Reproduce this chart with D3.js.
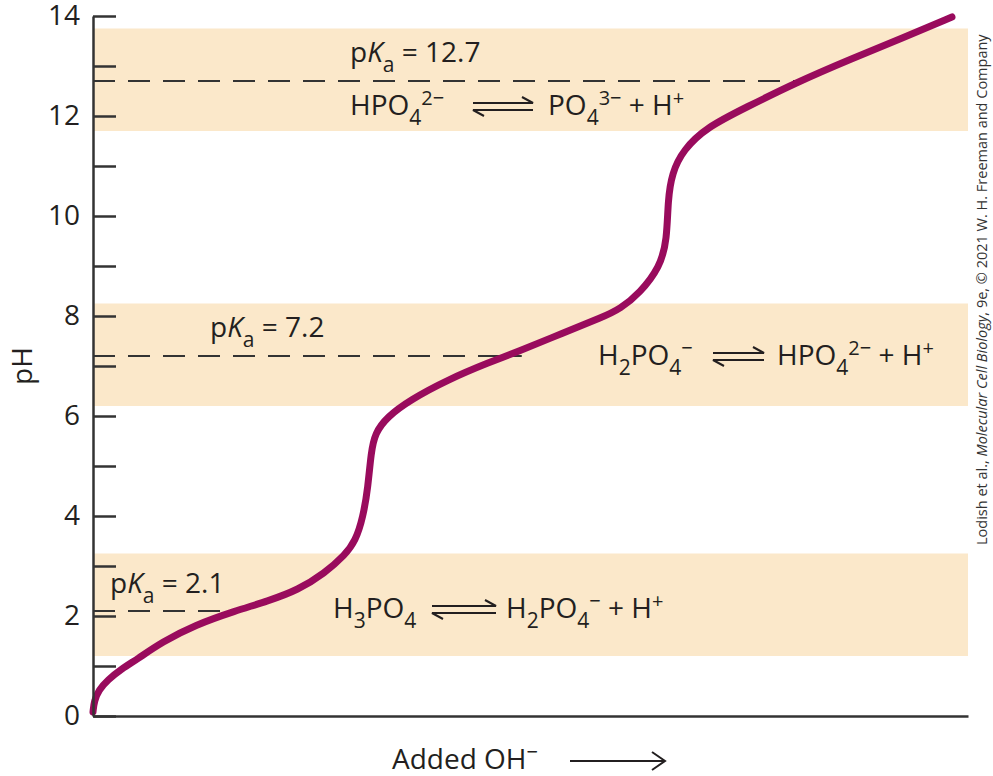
<!DOCTYPE html>
<html lang="en">
<head>
<meta charset="UTF-8">
<title>Titration of phosphoric acid</title>
<script src="https://d3js.org/d3.v7.min.js"></script>
<style>
  body { margin: 0; background: #fff; }
  svg { display: block; font-family: 'Open Sans', sans-serif; }
  .lbl { font-size: 28px; fill: #231f20; }
  .axis text { font-size: 28px; fill: #231f20; font-family: 'Open Sans', sans-serif; }
  .axis path, .axis line { stroke: #333; stroke-width: 2.5; }
  .credit { font-size: 14.5px; fill: #333; }
</style>
</head>
<body>
<svg width="993" height="776"></svg>
<script>
// titration curve (equivalents of OH- added, pH)
const addedOH = [0, 0, 0.004, 0.02, 0.05, 0.1, 0.15, 0.237, 0.35, 0.487, 0.6, 0.703, 0.795, 0.864, 0.9, 0.926, 0.943,
  0.953, 0.967, 1.008, 1.087, 1.214, 1.361, 1.454, 1.611, 1.749, 1.807, 1.875, 1.944, 1.968, 1.971, 1.985,
  2.023, 2.105, 2.242, 2.4, 2.606, 2.777, 2.945, 2.945];
const pH = [0.08, 0.08, 0.3, 0.52, 0.72, 0.95, 1.13, 1.48, 1.82, 2.1, 2.3, 2.52, 2.86, 3.22, 3.5, 3.98, 4.58,
  5.26, 5.66, 5.98, 6.32, 6.72, 7.08, 7.28, 7.66, 7.98, 8.14, 8.46, 8.98, 9.52, 10.32, 10.86,
  11.32, 11.78, 12.18, 12.64, 13.16, 13.56, 13.98, 13.98];

const pKa = [2.1, 7.2, 12.7];
const pKaLabels = ["2.1", "7.2", "12.7"];
const pKaCross = [0.50, 1.47, 2.42];          // where the curve meets each pKa
const bandLow = [1.2, 6.2, 11.7];
const bandHigh = [3.25, 8.25, 13.75];

const yTicks = [0, 1, 2, 3, 4, 5, 6, 7, 8, 9, 10, 11, 12, 13, 14];
const yTickLabels = [0, 2, 4, 6, 8, 10, 12, 14];

const svg = d3.select("svg");

const x = d3.scaleLinear().domain([0, 3]).range([93, 968]);
const y = d3.scaleLinear().domain([0, 14]).range([716, 16]);

// buffer bands
svg.selectAll(".band")
    .data(bandLow)
    .enter().append("rect")
    .attr("x", x(0))
    .attr("y", (d, i) => y(bandHigh[i]))
    .attr("width", x(3) - x(0))
    .attr("height", (d, i) => y(d) - y(bandHigh[i]))
    .attr("fill", "#fbe8ca");

// pKa dashed lines
svg.selectAll(".pka")
    .data(pKa)
    .enter().append("line")
    .attr("x1", x(0))
    .attr("x2", (d, i) => x(pKaCross[i]))
    .attr("y1", d => y(d))
    .attr("y2", d => y(d))
    .attr("stroke", "#333")
    .attr("stroke-width", 2)
    .attr("stroke-dasharray", "22 13");

// curve
const pts = addedOH.map((v, i) => [v, pH[i]]);
const line = d3.line()
    .x(d => x(d[0]))
    .y(d => y(d[1]))
    .curve(d3.curveBasis);

svg.append("path")
    .datum(pts)
    .attr("d", line)
    .attr("fill", "none")
    .attr("stroke", "#990b5d")
    .attr("stroke-width", 7)
    .attr("stroke-linecap", "round");

// axes
svg.append("g")
    .attr("class", "axis")
    .attr("transform", `translate(${x(0)},0)`)
    .call(d3.axisLeft(y)
        .tickValues(yTicks)
        .tickSizeInner(-23)
        .tickSizeOuter(0)
        .tickPadding(13)
        .tickFormat(d => yTickLabels.includes(d) ? d : ""));

svg.append("g")
    .attr("class", "axis")
    .attr("transform", `translate(0,${y(0)})`)
    .call(d3.axisBottom(x).tickValues([]).tickSizeOuter(0));

// text with sub / superscripts
function chem(px, py, parts) {
  const t = svg.append("text").attr("class", "lbl").attr("x", px).attr("y", py);
  let cur = 0;
  parts.forEach(([s, kind]) => {
    const off = kind === "sub" ? 10 : kind === "sup" ? -10 : 0;
    const sp = t.append("tspan").text(s).attr("dy", off - cur);
    if (kind === "sub") sp.attr("font-size", "21px");
    if (kind === "sup") sp.attr("font-size", "20px");
    if (kind === "i") sp.attr("font-style", "italic");
    cur = off;
  });
  return t;
}

function equil(x1, x2, base) {
  const yt = base - 12, yb = base - 5;
  svg.append("path")
      .attr("d", `M${x1},${yt}H${x2}l-11,-6 M${x2},${yb}H${x1}l11,6`)
      .attr("fill", "none")
      .attr("stroke", "#231f20")
      .attr("stroke-width", 2);
}

function pkaLabel(px, py, val) {
  chem(px, py, [["p", ""], ["K", "i"], ["a", "sub"], [" = " + val, ""]]);
}

pkaLabel(350, 62, pKaLabels[2]);
pkaLabel(210, 337, pKaLabels[1]);
pkaLabel(110, 593, pKaLabels[0]);

// HPO4 2- <=> PO4 3- + H+
chem(350, 115, [["HPO", ""], ["4", "sub"], ["2\u2212", "sup"]]);
equil(473, 533, 115);
chem(548, 115, [["PO", ""], ["4", "sub"], ["3\u2212", "sup"], [" + H", ""], ["+", "sup"]]);

// H2PO4- <=> HPO4 2- + H+
chem(598, 365, [["H", ""], ["2", "sub"], ["PO", ""], ["4", "sub"], ["\u2212", "sup"]]);
equil(713, 764, 365);
chem(777, 365, [["HPO", ""], ["4", "sub"], ["2\u2212", "sup"], [" + H", ""], ["+", "sup"]]);

// H3PO4 <=> H2PO4- + H+
chem(333, 618, [["H", ""], ["3", "sub"], ["PO", ""], ["4", "sub"]]);
equil(432, 496, 618);
chem(506, 618, [["H", ""], ["2", "sub"], ["PO", ""], ["4", "sub"], ["\u2212", "sup"], [" + H", ""], ["+", "sup"]]);

// axis titles
chem(392, 769, [["Added OH", ""], ["\u2212", "sup"]]);
svg.append("path")
    .attr("d", "M570,761H665M652,752L665,761L652,770")
    .attr("fill", "none")
    .attr("stroke", "#231f20")
    .attr("stroke-width", 2);

svg.append("text")
    .attr("class", "lbl")
    .attr("transform", `translate(32,${y(7)}) rotate(-90)`)
    .attr("text-anchor", "middle")
    .text("pH");

const credit = svg.append("text")
    .attr("class", "credit")
    .attr("transform", "translate(987,545) rotate(-90)");
credit.append("tspan").text("Lodish et al., ");
credit.append("tspan").attr("font-style", "italic").text("Molecular Cell Biology");
credit.append("tspan").text(", 9e, \u00a9 2021 W. H. Freeman and Company");
</script>
</body>
</html>
